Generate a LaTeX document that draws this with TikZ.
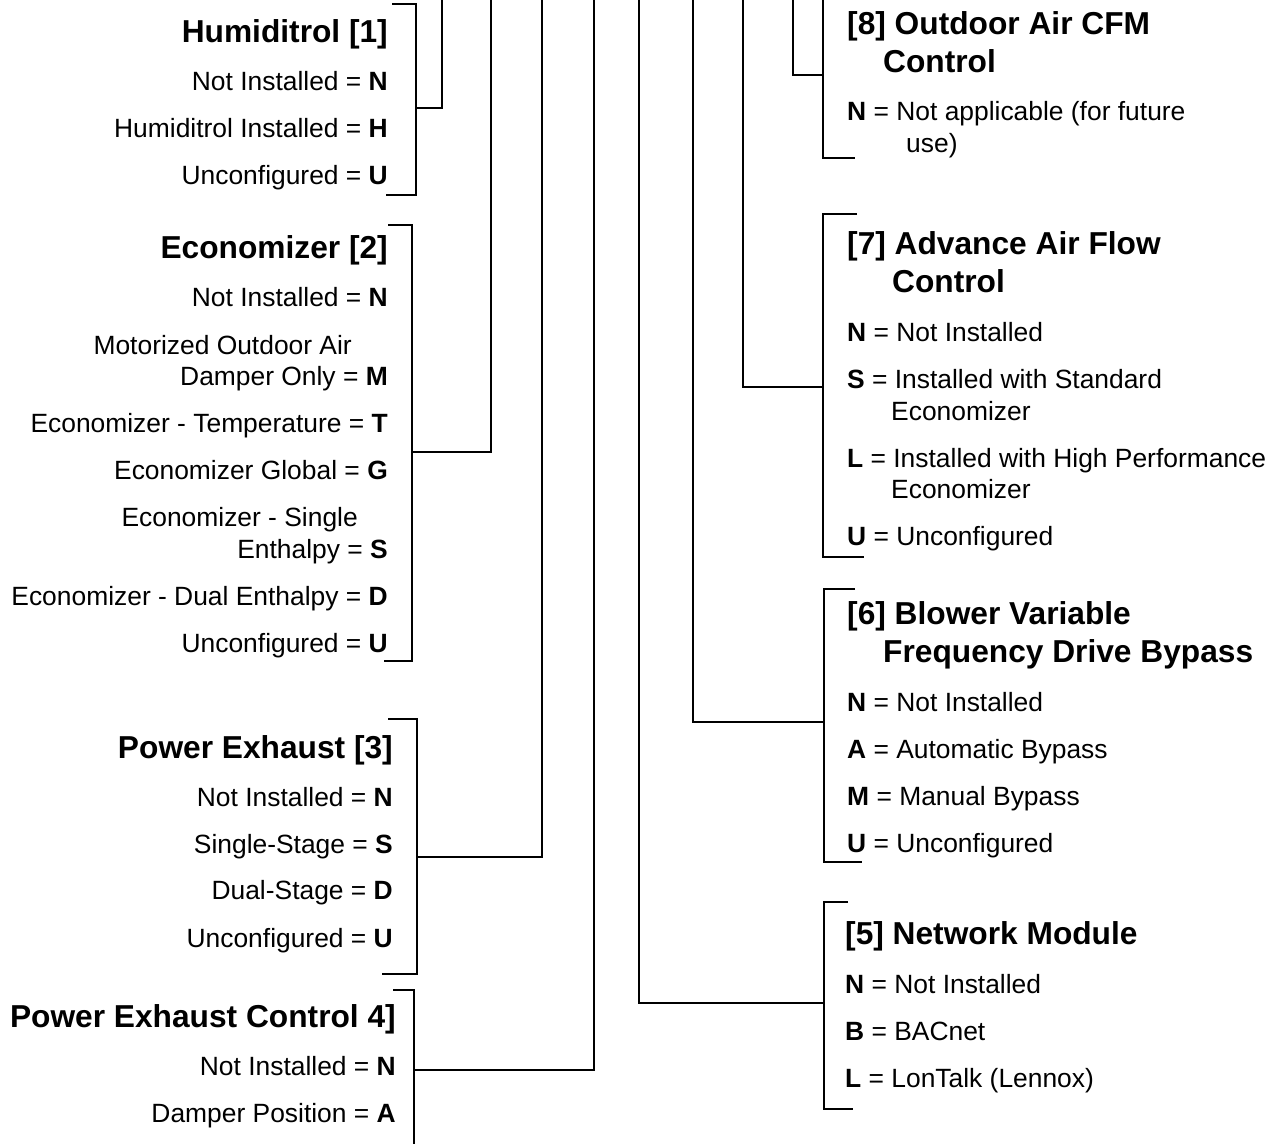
\documentclass[tikz,border=0pt]{standalone}
\usepackage{fontspec}
\setmainfont{Liberation Sans}
\usetikzlibrary{positioning}
\tikzset{
  head/.style={inner sep=0pt, font=\fontsize{31.7}{38}\selectfont\bfseries},
  opt/.style={inner sep=0pt, font=\fontsize{26.4}{31.5}\selectfont},
  lhead/.style={head, anchor=base east},
  rhead/.style={head, anchor=base west},
  lopt/.style={opt, anchor=base east},
  ropt/.style={opt, anchor=base west},
  link/.style={line width=2.2pt, black}
}
\newcommand{\key}[1]{\textbf{#1}}

\begin{document}
\begin{tikzpicture}[x=1pt, y=-1pt]
  \useasboundingbox (0,0) rectangle (1281,1143);

  % left column: option = letter
  \node[lhead] (hum)   at (388,42.3)  {Humiditrol [1]};
  \node[lopt]  (humN)  at (388,90.5)  {Not Installed = \key{N}};
  \node[lopt]  (humH)  at (388,137.5) {Humiditrol Installed = \key{H}};
  \node[lopt]  (humU)  at (388,184.5) {Unconfigured = \key{U}};

  \node[lhead] (eco)   at (388,258.3) {Economizer [2]};
  \node[lopt]  (ecoN)  at (388,306.5) {Not Installed = \key{N}};
  \node[lopt]  (ecoMa) at (352,354.5) {Motorized Outdoor Air};
  \node[lopt]  (ecoMb) at (388,385.5) {Damper Only = \key{M}};
  \node[lopt]  (ecoT)  at (388,432.5) {Economizer - Temperature = \key{T}};
  \node[lopt]  (ecoG)  at (388,479.5) {Economizer Global = \key{G}};
  \node[lopt]  (ecoSa) at (358,526.5) {Economizer - Single};
  \node[lopt]  (ecoSb) at (388,558.5) {Enthalpy = \key{S}};
  \node[lopt]  (ecoD)  at (388,605.5) {Economizer - Dual Enthalpy = \key{D}};
  \node[lopt]  (ecoU)  at (388,652.5) {Unconfigured = \key{U}};

  \node[lhead] (pex)   at (393,758.3) {Power Exhaust [3]};
  \node[lopt]  (pexN)  at (393,806.5) {Not Installed = \key{N}};
  \node[lopt]  (pexS)  at (393,853.5) {Single-Stage = \key{S}};
  \node[lopt]  (pexD)  at (393,899.5) {Dual-Stage = \key{D}};
  \node[lopt]  (pexU)  at (393,947.5) {Unconfigured = \key{U}};

  \node[lhead] (pec)   at (396,1027.3) {Power Exhaust Control 4]};
  \node[lopt]  (pecN)  at (396,1075.5) {Not Installed = \key{N}};
  \node[lopt]  (pecA)  at (396,1122.5) {Damper Position = \key{A}};

  % right column: letter = option
  \node[rhead] (oaa)   at (847,34.3)  {[8] Outdoor Air CFM};
  \node[rhead] (oab)   at (883,72.3)  {Control};
  \node[ropt]  (oaNa)  at (847,120.5) {\key{N} = Not applicable (for future};
  \node[ropt]  (oaNb)  at (906,152.5) {use)};

  \node[rhead] (afa)   at (847,254.3) {[7] Advance Air Flow};
  \node[rhead] (afb)   at (892,292.3) {Control};
  \node[ropt]  (afN)   at (847,341.5) {\key{N} = Not Installed};
  \node[ropt]  (afSa)  at (847,388.5) {\key{S} = Installed with Standard};
  \node[ropt]  (afSb)  at (891,420.5) {Economizer};
  \node[ropt]  (afLa)  at (847,467.5) {\key{L} = Installed with High Performance};
  \node[ropt]  (afLb)  at (891,498.5) {Economizer};
  \node[ropt]  (afU)   at (847,545.5) {\key{U} = Unconfigured};

  \node[rhead] (vfa)   at (847,624.3) {[6] Blower Variable};
  \node[rhead] (vfb)   at (883,662.3) {Frequency Drive Bypass};
  \node[ropt]  (vfN)   at (847,711.5) {\key{N} = Not Installed};
  \node[ropt]  (vfA)   at (847,758.5) {\key{A} = Automatic Bypass};
  \node[ropt]  (vfM)   at (847,805.5) {\key{M} = Manual Bypass};
  \node[ropt]  (vfU)   at (847,852.5) {\key{U} = Unconfigured};

  \node[rhead] (net)   at (845,944.3)  {[5] Network Module};
  \node[ropt]  (netN)  at (845,993.5)  {\key{N} = Not Installed};
  \node[ropt]  (netB)  at (845,1040.5) {\key{B} = BACnet};
  \node[ropt]  (netL)  at (845,1087.5) {\key{L} = LonTalk (Lennox)};

  % bracket corners and taps
  \coordinate (humT) at (416,4);    \coordinate (humB) at (416,195);  \coordinate (humM) at (416,108);
  \coordinate (ecoT') at (412,225); \coordinate (ecoB) at (412,661);  \coordinate (ecoM) at (412,452);
  \coordinate (pexT) at (417,719);  \coordinate (pexB) at (417,974);  \coordinate (pexM) at (417,857);
  \coordinate (pecT) at (414,990);  \coordinate (pecB) at (414,1146); \coordinate (pecM) at (414,1070);
  \coordinate (oaT)  at (823,-2);   \coordinate (oaB)  at (823,158);  \coordinate (oaM)  at (823,75);
  \coordinate (afT)  at (823,214);  \coordinate (afB)  at (823,557);  \coordinate (afM)  at (823,387);
  \coordinate (vfT)  at (824,589);  \coordinate (vfB)  at (824,862);  \coordinate (vfM)  at (824,722);
  \coordinate (netT) at (824,902);  \coordinate (netB') at (824,1109); \coordinate (netM) at (824,1003);
  % free ends at the top edge
  \foreach \n/\x in {humE/442, ecoE/491, pexE/542, pecE/594, netE/639, vfE/693, afE/743, oaE/793}
    \coordinate (\n) at (\x,-2);

  \draw[link] ([xshift=-24pt]humT) -- (humT) -- (humB) -- ([xshift=-30pt]humB);
  \draw[link] ([xshift=-24pt]ecoT') -- (ecoT') -- (ecoB) -- ([xshift=-28pt]ecoB);
  \draw[link] ([xshift=-29pt]pexT) -- (pexT) -- (pexB) -- ([xshift=-35pt]pexB);
  \draw[link] ([xshift=-21pt]pecT) -- (pecT) -- (pecB);
  \draw[link] (oaT) -- (oaB) -- ([xshift=32pt]oaB);
  \draw[link] ([xshift=34pt]afT) -- (afT) -- (afB) -- ([xshift=41pt]afB);
  \draw[link] ([xshift=31pt]vfT) -- (vfT) -- (vfB) -- ([xshift=38pt]vfB);
  \draw[link] ([xshift=24pt]netT) -- (netT) -- (netB') -- ([xshift=29pt]netB');

  \draw[link] (humM) -| (humE);
  \draw[link] (ecoM) -| (ecoE);
  \draw[link] (pexM) -| (pexE);
  \draw[link] (pecM) -| (pecE);
  \draw[link] (netM) -| (netE);
  \draw[link] (vfM)  -| (vfE);
  \draw[link] (afM)  -| (afE);
  \draw[link] (oaM)  -| (oaE);
\end{tikzpicture}
\end{document}
